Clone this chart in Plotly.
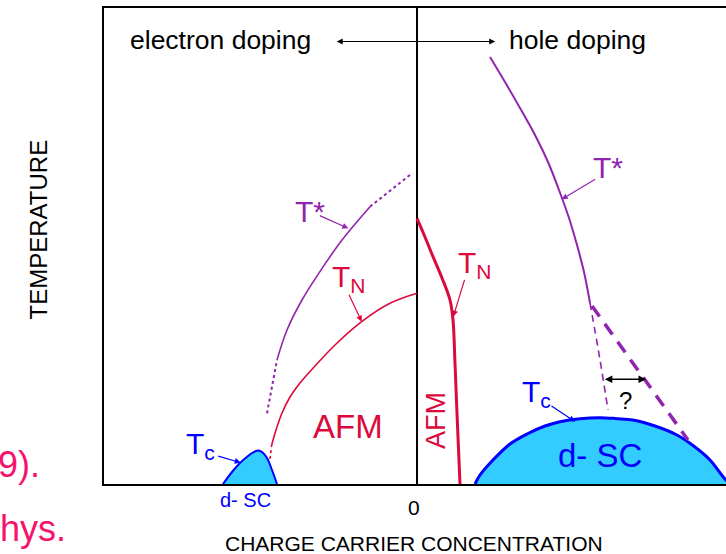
import plotly.graph_objects as go

FONT = "Liberation Sans, Arial, sans-serif"
PURPLE = "#9124AF"
RED = "#DC0A3C"
BLUE = "#0000FF"
CYAN = "#33CCFF"
PINK = "#F5136E"

# ---- data: doping (electron < 0 < hole), temperature (K, arbitrary scale) ----
sc_e_x = [-0.194, -0.185, -0.177, -0.169, -0.165, -0.160, -0.156, -0.150, -0.145, -0.140]
sc_e_T = [0, 18, 31.5, 42, 46.5, 50, 49, 39, 21, 0]

tstar_e_x = [-0.140, -0.130, -0.115, -0.096, -0.075, -0.047]
tstar_e_T = [186, 231, 276, 321, 366, 416]
tstar_e_lo_x = [-0.150, -0.140]
tstar_e_lo_T = [106, 186]
tstar_e_hi_x = [-0.047, -0.005]
tstar_e_hi_T = [416, 466]

tn_e_x = [-0.1453, -0.141, -0.135, -0.127, -0.117, -0.102, -0.082, -0.0553, -0.027, 0.000]
tn_e_T = [58.5, 81, 106.5, 130.5, 151.5, 177, 208.5, 243.5, 271, 286]
tn_e_lo_x = [-0.147, -0.1453]
tn_e_lo_T = [37.5, 58.5]

tn_h_x = [0.000, 0.008, 0.016, 0.025, 0.033, 0.036, 0.038, 0.040, 0.043]
tn_h_T = [398.5, 370.5, 341, 309, 276, 246, 181, 106, 0]

sc_h_x = [0.058, 0.063, 0.076, 0.093, 0.110, 0.128, 0.143, 0.163, 0.183, 0.200,
          0.216, 0.238, 0.260, 0.278, 0.293, 0.306, 0.313]
sc_h_T = [0, 13.5, 36, 60, 75, 87, 93.5, 98, 99.5, 98, 96, 87, 73.5, 55.5, 36, 11, 0]

tstar_h_x = [0.073, 0.088, 0.103, 0.118, 0.131, 0.142, 0.152, 0.160, 0.167, 0.173]
tstar_h_T = [640.5, 603, 564, 523.5, 483, 441, 399, 358.5, 318, 271.5]
tstar_h_thin_x = [0.173, 0.183, 0.191]
tstar_h_thin_T = [271.5, 186, 111]
tstar_h_thick_x = [0.175, 0.271]
tstar_h_thick_T = [267, 66]

x_range = [-0.313, 0.309]
T_range = [0, 714]
x_ticks = [0]
x_ticklabels = ["0"]

fig = go.Figure()


def line(x, y, color, width, dash="solid", fill=None, fillcolor=None, shape="spline"):
    fig.add_trace(go.Scatter(x=x, y=y, mode="lines", line=dict(color=color, width=width,
                             dash=dash, shape=shape),
                             fill=fill, fillcolor=fillcolor, hoverinfo="skip",
                             showlegend=False))


line(sc_e_x, sc_e_T, BLUE, 2, fill="tozeroy", fillcolor=CYAN)
line(sc_h_x, sc_h_T, BLUE, 3, fill="tozeroy", fillcolor=CYAN)
line(tstar_e_x, tstar_e_T, PURPLE, 1.6)
line(tstar_e_lo_x, tstar_e_lo_T, PURPLE, 2, dash="dot", shape="linear")
line(tstar_e_hi_x, tstar_e_hi_T, PURPLE, 2, dash="dot", shape="linear")
line(tn_e_x, tn_e_T, RED, 1.6)
line(tn_e_lo_x, tn_e_lo_T, RED, 1.6, dash="dot", shape="linear")
line(tn_h_x, tn_h_T, RED, 3)
line(tstar_h_x, tstar_h_T, PURPLE, 2)
line(tstar_h_thin_x, tstar_h_thin_T, PURPLE, 1.6, dash="7px,5px")
line(tstar_h_thick_x, tstar_h_thick_T, PURPLE, 3.5, dash="13px,9px", shape="linear")

ann = []


def text(x, y, s, color, size, xref="x", yref="y", xanchor="center", angle=0):
    ann.append(dict(x=x, y=y, xref=xref, yref=yref, text=s, showarrow=False,
                    xanchor=xanchor, yanchor="middle", textangle=angle,
                    font=dict(family=FONT, size=size, color=color)))


def arrow(x0, y0, x1, y1, color, width=1.2, both=False, size=1.0):
    ann.append(dict(x=x1, y=y1, ax=x0, ay=y0, xref="x", yref="y", axref="x", ayref="y",
                    text="", showarrow=True, arrowhead=2, arrowsize=size,
                    arrowwidth=width, arrowcolor=color,
                    arrowside="end+start" if both else "end", standoff=0, startstandoff=0))


text(-0.2165, 58.5, "T<sub>c</sub>", BLUE, 30)
arrow(-0.2003, 42.5, -0.1763, 32, BLUE)
text(-0.172, -0.0326, "d- SC", BLUE, 20, yref="paper")
text(-0.107, 408.75, "T*", PURPLE, 30)
arrow(-0.0987, 403.5, -0.0687, 383.5, PURPLE)
text(-0.0685, 309, "T<sub>N</sub>", RED, 30)
arrow(-0.0687, 286, -0.0553, 243.5, RED)
text(-0.0695, 86.25, "AFM", RED, 33)
text(0.019, 94.5, "AFM", RED, 27, angle=-90)
text(0.058, 330, "T<sub>N</sub>", RED, 30)
arrow(0.048, 308.5, 0.0363, 251, RED)
text(0.1195, 136.5, "T<sub>c</sub>", BLUE, 30)
arrow(0.133, 118.5, 0.158, 93.5, BLUE)
text(0.183, 43.5, "d- SC", BLUE, 33)
text(0.191, 474.75, "T*", PURPLE, 30)
arrow(0.1797, 458.5, 0.1447, 427, PURPLE)
text(0.208, 126, "?", "black", 24)
arrow(0.1863, 157, 0.229, 157, "black", width=1.5, both=True)
text(-0.1967, 666, "electron doping", "black", 26.5)
text(0.1605, 666, "hole doping", "black", 26.5)
arrow(0.0797, 663.75, -0.0803, 663.75, "black", width=1.2, both=True)

# x-axis tick label(s), placed just below the axis
for tv, tl in zip(x_ticks, x_ticklabels):
    text(tv - 0.003, -0.049, tl, "black", 21, yref="paper")

text(-0.1002, 0.042, "1999).", PINK, 36, xref="paper", yref="paper", xanchor="right")
text(-0.0574, -0.0945, "Phys.", PINK, 36, xref="paper", yref="paper", xanchor="right")
text(-0.106, 0.535, "TEMPERATURE", "black", 24, xref="paper", yref="paper", angle=-90)
text(0.4984, -0.124, "CHARGE CARRIER CONCENTRATION", "black", 21, xref="paper", yref="paper")

fig.update_layout(
    width=726, height=554,
    margin=dict(l=104, r=0, t=8, b=70),
    paper_bgcolor="white", plot_bgcolor="white",
    font=dict(family=FONT, size=19, color="black"),
    annotations=ann,
    xaxis=dict(range=x_range, showgrid=False, showline=True, linecolor="black", linewidth=2,
               mirror=True, zeroline=True, zerolinecolor="black", zerolinewidth=2,
               tickmode="array", tickvals=x_ticks, showticklabels=False, ticks=""),
    yaxis=dict(range=T_range, showgrid=False, showline=True, linecolor="black", linewidth=2,
               zeroline=False, showticklabels=False, ticks=""),
)

fig.write_html("out.html")
